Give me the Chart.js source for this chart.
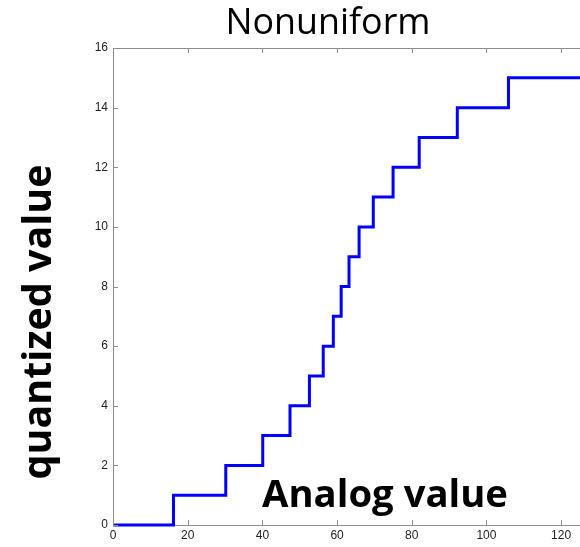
<!DOCTYPE html>
<html>
<head>
<meta charset="utf-8">
<script src="https://cdn.jsdelivr.net/npm/chart.js@4.4.1/dist/chart.umd.min.js"></script>
<style>
html, body { margin: 0; padding: 0; background: #fff; overflow: hidden; width: 580px; height: 547px; }
#wrap { position: relative; width: 600px; height: 547px; }
</style>
</head>
<body>
<div id="wrap"><canvas id="c" width="600" height="547"></canvas></div>
<script>
// Data
const stepX = [0, 16.2, 30.2, 40.1, 47.4, 52.6, 56.3, 59.0, 61.1, 63.2, 65.9, 69.7, 75.0, 82.0, 92.2, 105.9, 128];
const levels = [0, 1, 2, 3, 4, 5, 6, 7, 8, 9, 10, 11, 12, 13, 14, 15, 15];
const xTicks = [0, 20, 40, 60, 80, 100, 120];
const yTicks = [0, 2, 4, 6, 8, 10, 12, 14, 16];
const titleText = 'Nonuniform';
const xLabel = 'Analog value';
const yLabel = 'quantized value';

const points = stepX.map((x, i) => ({ x: x, y: levels[i] }));

function fitFont(ctx, text, weight, family, targetW) {
  ctx.font = weight + ' 100px ' + family;
  const w = ctx.measureText(text).width;
  const size = 100 * targetW / w;
  return weight + ' ' + size.toFixed(2) + 'px ' + family;
}

const decor = {
  id: 'decor',
  afterDraw(chart) {
    const ctx = chart.ctx;
    const a = chart.chartArea;
    const xs = chart.scales.x, ys = chart.scales.y;
    ctx.save();
    ctx.strokeStyle = '#8c8c8c';
    ctx.lineWidth = 1;
    ctx.beginPath();
    ctx.moveTo(a.left, a.top + 0.5);
    ctx.lineTo(a.right, a.top + 0.5);
    ctx.stroke();
    ctx.beginPath();
    xTicks.forEach(v => {
      const px = Math.round(xs.getPixelForValue(v)) + 0.5;
      ctx.moveTo(px, a.bottom); ctx.lineTo(px, a.bottom - 5);
      ctx.moveTo(px, a.top); ctx.lineTo(px, a.top + 5);
    });
    yTicks.forEach(v => {
      const py = Math.round(ys.getPixelForValue(v)) + 0.5;
      ctx.moveTo(a.left, py); ctx.lineTo(a.left + 5, py);
    });
    ctx.stroke();
    ctx.restore();

    ctx.save();
    ctx.fillStyle = '#000';
    ctx.textAlign = 'center';
    ctx.textBaseline = 'alphabetic';
    ctx.font = fitFont(ctx, titleText, 'normal', '"Open Sans", sans-serif', 205);
    ctx.fillText(titleText, 328, 34);
    ctx.font = fitFont(ctx, xLabel, 'bold', '"Open Sans", sans-serif', 246);
    ctx.fillText(xLabel, 385, 507);
    ctx.translate(51, 322);
    ctx.rotate(-Math.PI / 2);
    ctx.font = fitFont(ctx, yLabel, 'bold', '"Open Sans", sans-serif', 315);
    ctx.fillText(yLabel, 0, 0);
    ctx.restore();
  }
};

new Chart(document.getElementById('c'), {
  type: 'line',
  data: {
    datasets: [{
      data: points,
      stepped: 'before',
      borderColor: '#0000ff',
      borderWidth: 3,
      pointRadius: 0,
      fill: false,
      clip: 6
    }]
  },
  options: {
    responsive: false,
    animation: false,
    devicePixelRatio: 1,
    layout: { padding: { left: 0, top: 48, right: 9, bottom: 0 } },
    plugins: { legend: { display: false }, tooltip: { enabled: false }, title: { display: false } },
    scales: {
      x: {
        type: 'linear',
        min: 0, max: 128,
        afterBuildTicks(s) { s.ticks = xTicks.map(v => ({ value: v })); },
        afterFit(s) { s.height = 22; },
        grid: { display: true, drawOnChartArea: false, drawTicks: false },
        border: { display: true, color: '#8c8c8c', width: 1 },
        ticks: { padding: 3, color: '#222', font: { family: '"Liberation Sans", Arial, sans-serif', size: 12 }, maxRotation: 0 }
      },
      y: {
        type: 'linear',
        min: 0, max: 16,
        afterBuildTicks(s) { s.ticks = yTicks.map(v => ({ value: v })); },
        afterFit(s) { s.width = 113; },
        grid: { display: true, drawOnChartArea: false, drawTicks: false },
        border: { display: true, color: '#8c8c8c', width: 1 },
        ticks: { padding: 5, color: '#222', font: { family: '"Liberation Sans", Arial, sans-serif', size: 12 } }
      }
    }
  },
  plugins: [decor]
});
</script>
</body>
</html>
